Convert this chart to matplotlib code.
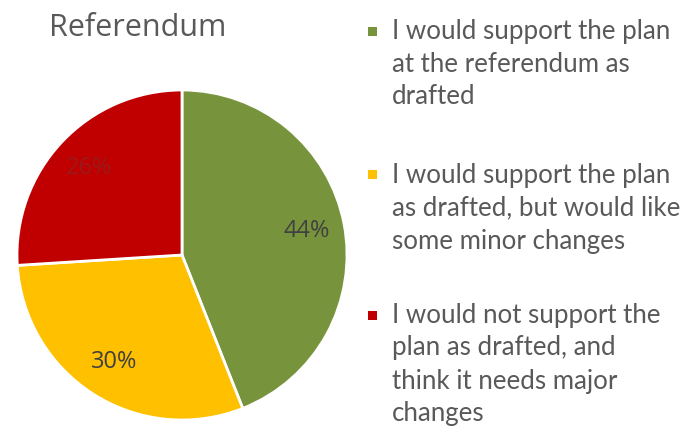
import matplotlib
matplotlib.use('Agg')
import matplotlib.pyplot as plt
from matplotlib.patches import Rectangle

# data
title = 'Referendum'
categories = ['I would support the plan\nat the referendum as\ndrafted',
              'I would support the plan\nas drafted, but would like\nsome minor changes',
              'I would not support the\nplan as drafted, and\nthink it needs major\nchanges']
shares = [44, 30, 26]
colors = ['#77933C', '#FFC000', '#C00000']

fig = plt.figure(figsize=(6.99, 4.30), dpi=100)
fig.patch.set_facecolor('white')

# pie axes: square region, centre ~ (182, 255) px, radius ~165 px
W, H = 699.0, 430.0
r_px = 165
cx, cy = 182, 255
ax = fig.add_axes([(cx - r_px) / W, (H - cy - r_px) / H, 2 * r_px / W, 2 * r_px / H])

wedges, texts = ax.pie(shares, colors=colors, startangle=90, counterclock=False,
                       labels=[f'{v}%' for v in shares], labeldistance=0.77,
                       wedgeprops=dict(edgecolor='white', linewidth=2),
                       textprops=dict(fontsize=17, color='#404040', family='Open Sans'))
for t in texts:
    t.set_ha('center')
    t.set_va('center')
texts[2].set_color('#9a1a1a')
ax.set_xlim(-1, 1)
ax.set_ylim(-1, 1)
ax.set_aspect('equal')

fig.text(49 / W, 1 - 28 / H, title, fontsize=22, color='#595959',
         family='Open Sans', va='center', ha='left')

# legend drawn by hand: square + multiline text
first_line_y = [31, 175, 315]
line_h = 33
for cat, col, y0 in zip(categories, colors, first_line_y):
    fig.patches.append(Rectangle((368 / W, 1 - (y0 + 4.5) / H), 9 / W, 9 / H,
                                 transform=fig.transFigure, facecolor=col,
                                 edgecolor='none'))
    for i, line in enumerate(cat.split('\n')):
        fig.text(392 / W, 1 - (y0 + i * line_h) / H, line, fontsize=18.6,
                 color='#595959', family='Lato', va='center', ha='left')

fig.savefig('out.png', dpi=100, facecolor='white')
